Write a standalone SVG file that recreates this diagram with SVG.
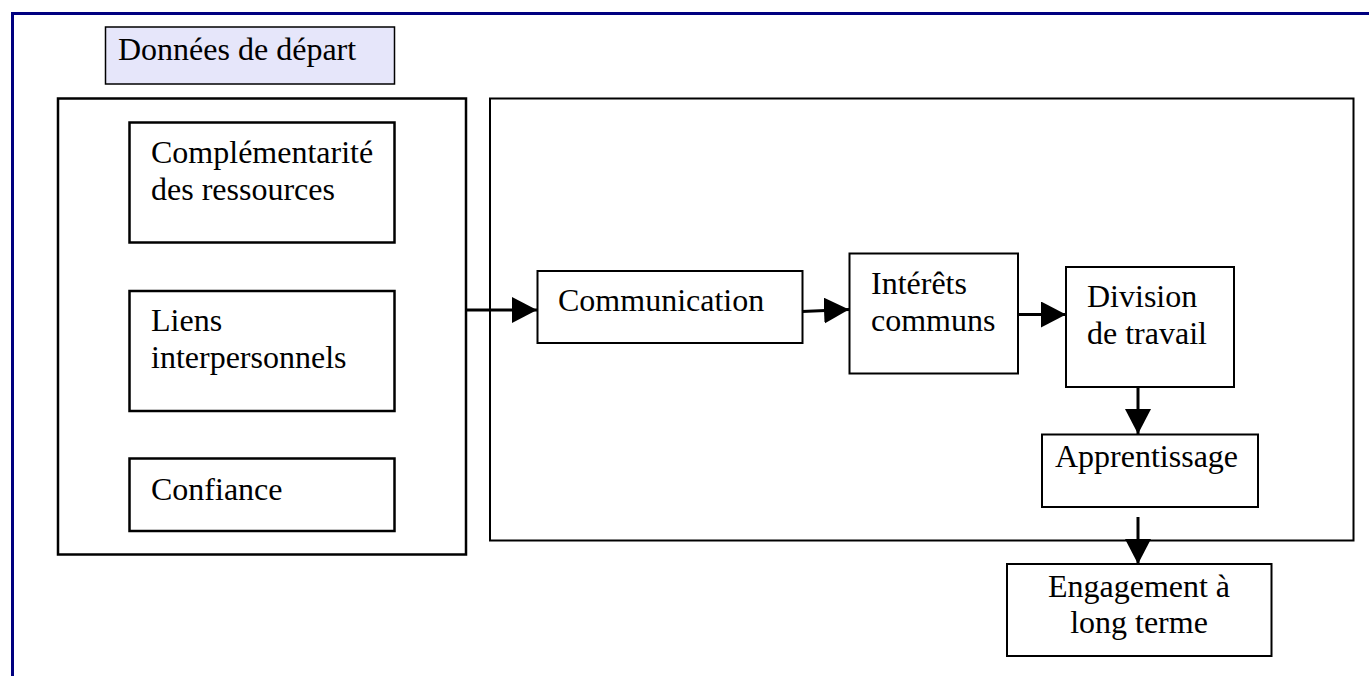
<svg xmlns="http://www.w3.org/2000/svg" width="1369" height="676" viewBox="0 0 1369 676">
<style>
.t{font-family:"Liberation Serif","Times New Roman",serif;font-size:32px;fill:#000}
.b2{fill:#fff;stroke:#000;stroke-width:2.5}
.b1{fill:#fff;stroke:#000;stroke-width:2}
.c{stroke:#000;stroke-width:3;fill:none}
</style>
<defs>
<marker id="ah" markerUnits="userSpaceOnUse" markerWidth="25" markerHeight="26" refX="25" refY="13" orient="auto" viewBox="0 0 25 26">
<path d="M0,0 L25,13 L0,26 z" fill="#000"/>
</marker>
</defs>
<rect width="1369" height="676" fill="#fff"/>
<g id="frame">
<path d="M1369,13.5 H12.5 V676" fill="none" stroke="#000080" stroke-width="3"/>
</g>
<g id="title">
<rect x="105.5" y="27" width="289" height="57" fill="#e6e6fa" stroke="#000" stroke-width="1.5"/>
<text class="t" x="118" y="60">Données de départ</text>
</g>
<g id="left-group">
<rect class="b2" x="58" y="98.5" width="408" height="456"/>
</g>
<g id="right-group">
<rect class="b1" x="490" y="98.5" width="863.5" height="442"/>
</g>
<g id="complementarite">
<rect class="b2" x="129.5" y="122.5" width="265" height="120"/>
<text class="t" x="151" y="163">Complémentarité</text>
<text class="t" x="151" y="200">des ressources</text>
</g>
<g id="liens">
<rect class="b2" x="129.5" y="291" width="265" height="120"/>
<text class="t" x="151" y="331">Liens</text>
<text class="t" x="151" y="368">interpersonnels</text>
</g>
<g id="confiance">
<rect class="b2" x="129.5" y="458.5" width="265" height="72.5"/>
<text class="t" x="151" y="500">Confiance</text>
</g>
<g id="communication">
<rect class="b1" x="537.5" y="271" width="265" height="72"/>
<text class="t" x="558" y="311">Communication</text>
</g>
<g id="interets">
<rect class="b1" x="849.5" y="253.5" width="168.5" height="120"/>
<text class="t" x="871" y="294">Intérêts</text>
<text class="t" x="871" y="331">communs</text>
</g>
<g id="division">
<rect class="b1" x="1066" y="267" width="168" height="120"/>
<text class="t" x="1087" y="307">Division</text>
<text class="t" x="1087" y="344">de travail</text>
</g>
<g id="apprentissage">
<rect class="b1" x="1042" y="434.5" width="216" height="72.5"/>
<text class="t" x="1055" y="467">Apprentissage</text>
</g>
<g id="engagement">
<rect class="b1" x="1007" y="564" width="264.5" height="92"/>
<text class="t" x="1139" y="597" text-anchor="middle">Engagement à</text>
<text class="t" x="1139" y="633" text-anchor="middle">long terme</text>
</g>
<g id="connectors">
<line class="c" x1="466" y1="310" x2="537" y2="310" marker-end="url(#ah)"/>
<line class="c" x1="802" y1="311.5" x2="849" y2="309.5" marker-end="url(#ah)"/>
<line class="c" x1="1018" y1="314.5" x2="1066" y2="314.5" marker-end="url(#ah)"/>
<line class="c" x1="1138" y1="387" x2="1138" y2="434" marker-end="url(#ah)"/>
<line class="c" x1="1138" y1="517" x2="1138" y2="564" marker-end="url(#ah)"/>
</g>
</svg>
